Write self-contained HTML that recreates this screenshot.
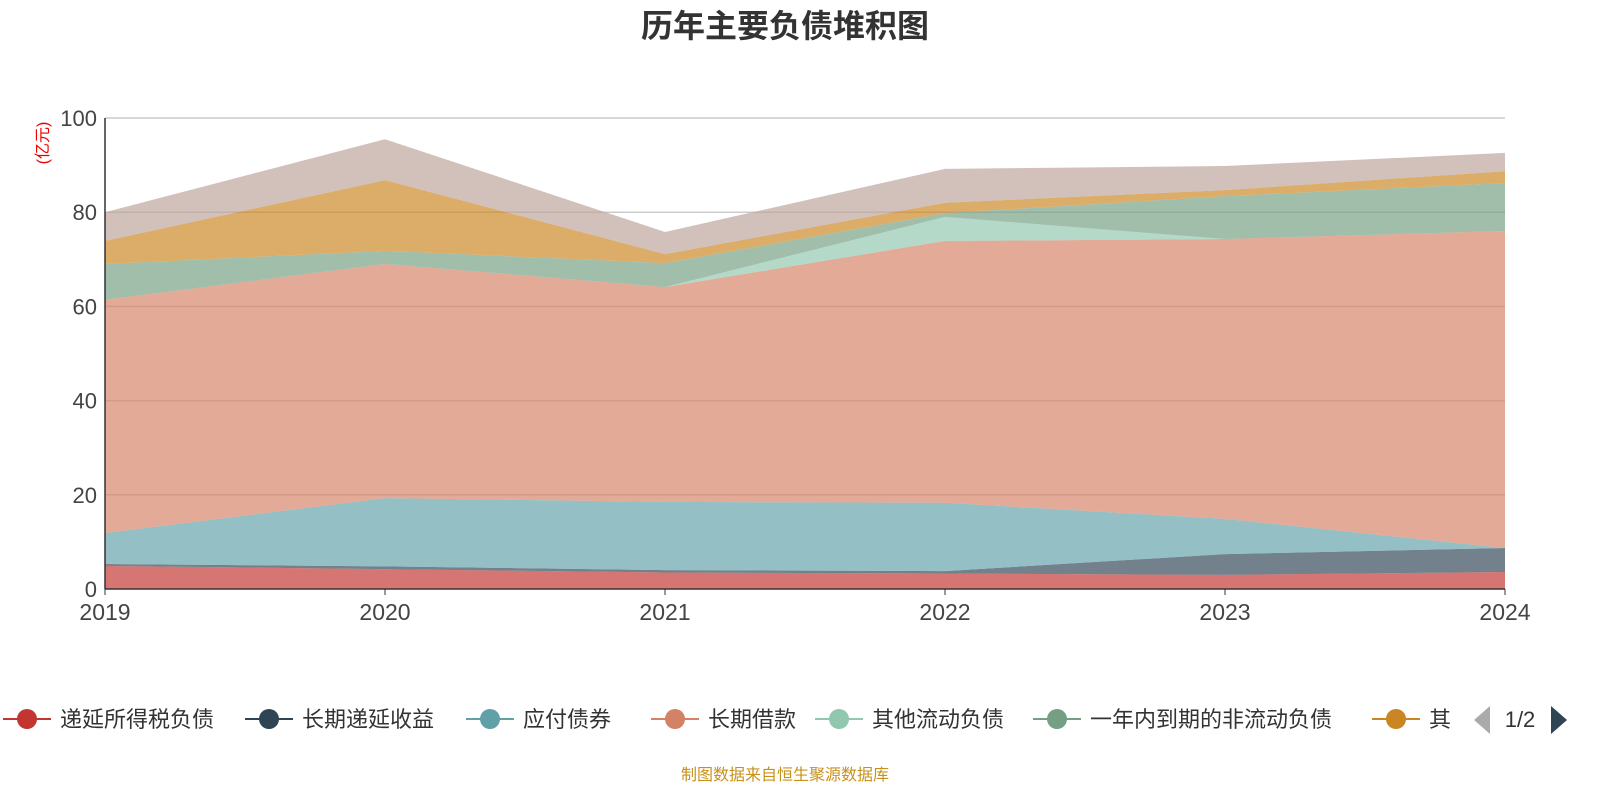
<!DOCTYPE html>
<html><head><meta charset="utf-8"><style>
body{margin:0;background:#fff;font-family:"Liberation Sans","Noto Sans CJK SC",sans-serif}
svg text{font-family:"Liberation Sans","Noto Sans CJK SC",sans-serif}
</style></head><body>
<svg id="c" width="1600" height="800">
<text x="785" y="37" text-anchor="middle" font-size="32" font-weight="bold" fill="#333">历年主要负债堆积图</text>
<text transform="translate(48,143) rotate(-90)" text-anchor="middle" font-size="16" fill="#e00">(亿元)</text>
<g id="grid"></g><g id="areas"></g><g id="axes"></g><g id="legend"></g>
<text x="785" y="780" text-anchor="middle" font-size="16" fill="#c8911a">制图数据来自恒生聚源数据库</text>
</svg>
<script>
const years=['2019','2020','2021','2022','2023','2024'];
const yTicks=[0,20,40,60,80,100];
const seriesNames=['递延所得税负债','长期递延收益','应付债券','长期借款','其他流动负债','一年内到期的非流动负债','其他','其他负债'];
const s1=[4.9,4.2,3.5,3.3,3.0,3.6];
const s2=[0.4,0.6,0.5,0.5,4.4,5.1];
const s3=[6.6,14.5,14.5,14.5,7.5,0];
const s4=[49.5,49.7,45.6,55.6,59.4,67.3];
const s5=[0,0,0,5.1,0,0];
const s6=[7.6,2.8,5.1,0.8,9.1,10.2];
const s7=[4.9,15,1.9,2.2,1.3,2.5];
const s8=[6.1,8.7,4.7,7.2,5.1,3.9];
const series=[s1,s2,s3,s4,s5,s6,s7,s8];
const colors=['#c23531','#2f4554','#61a0a8','#d48265','#91c7ae','#749f83','#ca8622','#bda29a'];
const X0=105,X1=1505,Y0=589,Y1=118;
const xs=i=>X0+i*(X1-X0)/(years.length-1);
const ys=v=>Y0-v*(Y0-Y1)/100;
const NS='http://www.w3.org/2000/svg';
function mk(t,a,p){const e=document.createElementNS(NS,t);for(const k in a)e.setAttribute(k,a[k]);p.appendChild(e);return e;}
const grid=document.getElementById('grid'),areas=document.getElementById('areas'),axes=document.getElementById('axes'),leg=document.getElementById('legend');
yTicks.forEach(t=>{
 if(t>0){const l=mk('line',{x1:X0,x2:X1,y1:ys(t),y2:ys(t),stroke:'#ccc','stroke-width':1.5},grid);
 
 }
 const tx=mk('text',{x:X0-8,y:ys(t)+8,'text-anchor':'end','font-size':22,fill:'#444'},axes);tx.textContent=t;
 
 
});
let base=years.map(()=>0);
series.forEach((s,k)=>{
 const top=base.map((b,i)=>b+s[i]);
 let d='M'+top.map((v,i)=>xs(i)+','+ys(v)).join('L');
 for(let i=years.length-1;i>=0;i--)d+='L'+xs(i)+','+ys(base[i]);
 const p=mk('path',{d:d+'Z',fill:colors[k],'fill-opacity':0.68},areas);
 
 
 base=top;
});
const ax=mk('line',{x1:X0,x2:X1,y1:Y0,y2:Y0,stroke:'#333','stroke-width':1.5},axes);


const ay=mk('line',{x1:X0,x2:X0,y1:Y1,y2:Y0,stroke:'#333','stroke-width':1.5},axes);


years.forEach((y,i)=>{
 const tk=mk('line',{x1:xs(i),x2:xs(i),y1:Y0,y2:Y0+6,stroke:'#333'},axes);
 
 
 const t=mk('text',{x:xs(i),y:Y0+31,'text-anchor':'middle','font-size':23,fill:'#444'},axes);t.textContent=y;
 
 
});
const legX=[3,245,466,651,815,1033,1372];
const legLabels=['递延所得税负债','长期递延收益','应付债券','长期借款','其他流动负债','一年内到期的非流动负债','其'];
legLabels.forEach((n,k)=>{
 const g=mk('g',{},leg);
 
 
 const x=legX[k];
 mk('line',{x1:x,x2:x+48,y1:719,y2:719,stroke:colors[k],'stroke-width':2},g);
 mk('circle',{cx:x+24,cy:719,r:10,fill:colors[k]},g);
 const t=mk('text',{x:x+57,y:727,'font-size':22,fill:'#333'},g);t.textContent=n;
});
const pl=mk('path',{d:'M1490,706L1490,734L1474,720Z',fill:'#aaa'},leg);


const pn=mk('path',{d:'M1551,706L1551,734L1567,720Z',fill:'#2f4554'},leg);


const pg=mk('text',{x:1520,y:727,'text-anchor':'middle','font-size':22,fill:'#333'},leg);pg.textContent='1/2';


</script>
</body></html>
